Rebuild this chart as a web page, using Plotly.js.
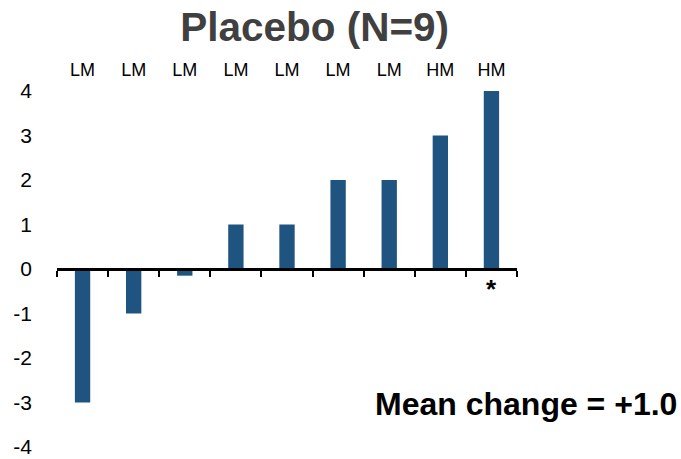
<!DOCTYPE html>
<html>
<head>
<meta charset="utf-8">
<script src="https://cdn.plot.ly/plotly-3.0.1.min.js"></script>
<style>html,body{margin:0;padding:0;background:#fff;}#chart{width:681px;height:459px;}</style>
</head>
<body>
<div id="chart"></div>
<script>
// Data
const subjects = [1, 2, 3, 4, 5, 6, 7, 8, 9];
const groups = ["LM", "LM", "LM", "LM", "LM", "LM", "LM", "HM", "HM"];
const changes = [-3, -1, -0.15, 1, 1, 2, 2, 3, 4];
const yTicks = [-4, -3, -2, -1, 0, 1, 2, 3, 4];
const markedSubject = 9;
const meanLabel = "Mean change = +1.0";

const boundaries = subjects.map(s => s - 0.5).concat([subjects[subjects.length - 1] + 0.5]);
const xRange = [subjects[0] - 0.5, subjects[subjects.length - 1] + 0.5];

const trace = {
  type: "bar",
  x: subjects,
  y: changes,
  width: 0.3,
  marker: { color: "#1F5380" },
  hoverinfo: "skip"
};

const layout = {
  width: 681,
  height: 459,
  margin: { l: 57, r: 164, t: 91, b: 12 },
  paper_bgcolor: "#fff",
  plot_bgcolor: "#fff",
  showlegend: false,
  font: { family: "Arial, 'Liberation Sans', sans-serif", color: "#000" },
  title: {
    text: "<b>Placebo (N=9)</b>",
    font: { size: 40.5, color: "#404040", family: "Arial, 'Liberation Sans', sans-serif" },
    x: 0.462, xref: "container", xanchor: "center",
    y: 0.941, yref: "container", yanchor: "middle"
  },
  xaxis: {
    type: "linear",
    range: xRange,
    anchor: "free",
    position: 0.5,
    showline: true,
    linecolor: "#000",
    linewidth: 3,
    ticks: "outside",
    tickmode: "array",
    tickvals: boundaries,
    ticklen: 6,
    tickwidth: 2,
    tickcolor: "#000",
    showticklabels: false,
    showgrid: false,
    zeroline: false,
    fixedrange: true
  },
  xaxis2: {
    type: "linear",
    overlaying: "x",
    side: "top",
    range: xRange,
    tickmode: "array",
    tickvals: subjects,
    ticktext: groups,
    ticks: "",
    ticklabelstandoff: 10,
    tickfont: { size: 18, color: "#000" },
    showline: false,
    showgrid: false,
    zeroline: false
  },
  yaxis: {
    range: [-4, 4],
    tickmode: "array",
    tickvals: yTicks,
    ticktext: yTicks.map(String),
    tickfont: { size: 21, color: "#000" },
    ticks: "",
    ticklabelstandoff: 24,
    ticklabeloverflow: "allow",
    showline: false,
    showgrid: false,
    zeroline: false
  },
  annotations: [
    {
      x: markedSubject, y: 0, xref: "x", yref: "y",
      text: "<b>*</b>", showarrow: false,
      yanchor: "top", yshift: -3,
      font: { size: 26, color: "#000" }
    },
    {
      x: 0.687, y: 0.122, xref: "paper", yref: "paper",
      xanchor: "left", yanchor: "middle",
      text: "<b>" + meanLabel + "</b>", showarrow: false,
      font: { size: 32, color: "#000" }
    }
  ]
};

// invisible trace to activate the top category-label axis
const topAxisTrace = {
  type: "scatter", x: subjects, y: changes.map(() => null), xaxis: "x2", yaxis: "y",
  mode: "markers", hoverinfo: "skip", showlegend: false
};

Plotly.newPlot("chart", [trace, topAxisTrace], layout, { displayModeBar: false, staticPlot: true });
</script>
</body>
</html>
